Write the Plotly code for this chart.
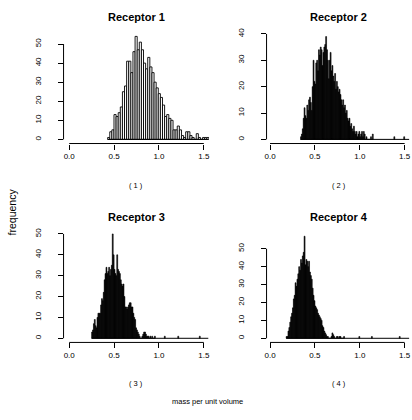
import plotly.graph_objects as go

# ---------------- data ----------------
# Receptor 1: bin width 0.0235 starting at 0.4285
r1_start = 0.4285
r1_width = 0.0235
r1_counts = [1, 4, 5, 13, 12, 14, 17, 25, 28, 41, 41, 35, 46, 54,
             47, 51, 47, 40, 37, 43, 38, 35, 30, 27, 24, 22, 18,
             12, 13, 11, 10, 5, 5, 7, 5, 2, 1, 4, 4, 2, 1, 0, 3, 1, 0, 1, 1, 1]

# Receptor 2: bin width 0.01 starting at 0.34
r2_start = 0.34
r2_width = 0.01
r2_counts = [1, 2, 4, 8, 12, 9, 8, 13, 11, 15, 16, 14, 11, 20, 30, 22, 21, 29, 30, 26,
             34, 32, 35, 34, 28, 33, 35, 36, 39, 34, 30, 23, 30, 33, 26, 28, 24, 22, 25, 19,
             22, 20, 18, 19, 17, 15, 13, 15, 12, 13, 10, 11, 8, 7, 8, 5, 6, 4, 3, 5,
             3, 2, 3, 1, 2, 3, 1, 2, 3, 1, 3, 2, 0, 1, 0, 0, 0, 0, 1, 0, 2]
r2_tail_x = [1.38, 1.49]
r2_tail_n = [1, 1]

# Receptor 3
r3_start = 0.25
r3_width = 0.01
r3_counts = [3, 4, 7, 9, 6, 5, 10, 12, 12, 12, 16, 19, 18, 22, 28, 31, 34, 31, 32, 34,
             30, 33, 35, 50, 40, 33, 31, 30, 40, 33, 32, 31, 28, 26, 25, 26, 20, 15, 15, 14,
             15, 16, 17, 17, 15, 15, 12, 10, 9, 5, 4, 3, 2, 1, 0, 0, 1, 2, 3, 3,
             2, 1, 1, 1, 0, 1, 0, 1, 0, 0, 1]
r3_tail_x = [1.06, 1.21, 1.45]
r3_tail_n = [1, 1, 1]

# Receptor 4
r4_start = 0.18
r4_width = 0.01
r4_counts = [1, 1, 4, 6, 9, 12, 14, 17, 22, 24, 31, 29, 33, 36, 40, 38, 44, 42, 46, 48,
             57, 41, 44, 43, 40, 43, 37, 35, 33, 28, 24, 21, 18, 17, 16, 14, 13, 12, 11, 10,
             7, 6, 4, 3, 2, 1, 1, 0, 0, 0, 1, 3, 2, 1, 0, 0, 1, 1, 0, 1,
             1, 0, 0, 0, 1]
r4_tail_x = [0.99, 1.13, 1.44]
r4_tail_n = [1, 1, 1]

data_max = 1.55

titles = ["Receptor 1", "Receptor 2", "Receptor 3", "Receptor 4"]
subs = ["( 1 )", "( 2 )", "( 3 )", "( 4 )"]
x_ticks = [0, 0.5, 1.0, 1.5]
x_ticklabels = ["0.0", "0.5", "1.0", "1.5"]
y_ticks = [[0, 10, 20, 30, 40, 50], [0, 10, 20, 30, 40],
           [0, 10, 20, 30, 40, 50], [0, 10, 20, 30, 40, 50]]
x_label = "mass per unit volume"
y_label = "frequency"

# ---------------- layout geometry (pixels) ----------------
W, H = 412, 420
FONT = "Liberation Sans, Arial, sans-serif"

# x: (left px, right px, px of value 0, px per unit)
xgeo = [(62.0, 208.5, 67.7, 90.4), (266.5, 412.0, 270.0, 90.4),
        (62.0, 208.5, 67.7, 90.4), (266.5, 412.0, 270.0, 90.4)]
# y: (top px, bottom px, px of count 0, px per count)
ygeo = [(27.7, 140.2, 136.0, 1.93), (27.7, 140.2, 136.0, 2.668),
        (229.0, 341.5, 337.3, 2.112), (229.0, 341.5, 337.3, 1.812)]


def bins(start, width, counts, tail_x=(), tail_n=()):
    xs = [start + (i + 0.5) * width for i in range(len(counts))]
    ys = list(counts)
    for tx, tn in zip(tail_x, tail_n):
        xs.append(tx + width / 2)
        ys.append(tn)
    return xs, ys, [width] * len(xs)


panels = [
    (bins(r1_start, r1_width, r1_counts), r1_start, "white", 0.9),
    (bins(r2_start, r2_width, r2_counts, r2_tail_x, r2_tail_n), r2_start, "black", 0.6),
    (bins(r3_start, r3_width, r3_counts, r3_tail_x, r3_tail_n), r3_start, "black", 0.6),
    (bins(r4_start, r4_width, r4_counts, r4_tail_x, r4_tail_n), r4_start, "black", 0.6),
]

fig = go.Figure()
layout = dict(width=W, height=H, margin=dict(l=0, r=0, t=0, b=0),
              paper_bgcolor="white", plot_bgcolor="white", showlegend=False,
              font=dict(family=FONT, color="black"), barmode="overlay")
shapes = []
annotations = []

for k, ((xs, ys, ws), start, fill, lw) in enumerate(panels):
    n = k + 1
    xa = "x" if n == 1 else f"x{n}"
    ya = "y" if n == 1 else f"y{n}"
    fig.add_trace(go.Bar(x=xs, y=ys, width=ws, xaxis=xa, yaxis=ya,
                         marker=dict(color=fill, line=dict(color="black", width=lw)),
                         hoverinfo="skip"))
    fig.add_trace(go.Scatter(x=[start, data_max], y=[0, 0], mode="lines", xaxis=xa, yaxis=ya,
                             line=dict(color="black", width=1), hoverinfo="skip"))
    L, R, x0, sx = xgeo[k]
    T, B, y0, sy = ygeo[k]
    xr = [(L - x0) / sx, (R - x0) / sx]
    yr = [(y0 - B) / sy, (y0 - T) / sy]
    layout["xaxis" if n == 1 else f"xaxis{n}"] = dict(
        domain=[L / W, R / W], range=xr, anchor=ya, tickvals=x_ticks, ticktext=x_ticklabels,
        ticks="outside", ticklen=5, tickwidth=1, tickcolor="black", showline=False,
        showgrid=False, zeroline=False, tickfont=dict(size=8, family=FONT, color="black"),
        ticklabelstandoff=0, ticklabeloverflow="allow", fixedrange=True)
    layout["yaxis" if n == 1 else f"yaxis{n}"] = dict(
        domain=[1 - B / H, 1 - T / H], range=yr, anchor=xa, tickvals=y_ticks[k],
        tickangle=-90, ticks="outside", ticklen=5, tickwidth=1, tickcolor="black",
        showline=False, showgrid=False, zeroline=False,
        tickfont=dict(size=8, family=FONT, color="black"), ticklabelstandoff=13,
        ticklabeloverflow="allow", fixedrange=True)
    shapes.append(dict(type="line", xref=xa, yref=f"{ya} domain", x0=x_ticks[0], x1=x_ticks[-1],
                       y0=0, y1=0, line=dict(color="black", width=1)))
    shapes.append(dict(type="line", xref=f"{xa} domain", yref=ya, x0=0, x1=0,
                       y0=y_ticks[k][0], y1=y_ticks[k][-1], line=dict(color="black", width=1)))
    cx = (L + R) / 2 / W
    title_y = 12 if k < 2 else 215
    sub_y = 183 if k < 2 else 383.3
    annotations.append(dict(text=f"<b>{titles[k]}</b>", x=cx, y=1 - title_y / H, xref="paper",
                            yref="paper", showarrow=False, xanchor="center", yanchor="middle",
                            font=dict(size=11, family=FONT, color="#000000")))
    annotations.append(dict(text=subs[k], x=cx, y=1 - sub_y / H, xref="paper", yref="paper",
                            showarrow=False, xanchor="center", yanchor="middle",
                            font=dict(size=7.5, family=FONT, color="#000000")))

annotations.append(dict(text=x_label, x=206.7 / W, y=1 - 401.7 / H, xref="paper", yref="paper",
                        showarrow=False, xanchor="center", yanchor="middle",
                        font=dict(size=7.5, family=FONT, color="#000000")))
annotations.append(dict(text=y_label, x=10 / W, y=1 - 209 / H, xref="paper", yref="paper",
                        showarrow=False, xanchor="center", yanchor="middle", textangle=-90,
                        font=dict(size=10.5, family=FONT, color="#000000")))

layout["shapes"] = shapes
layout["annotations"] = annotations
fig.update_layout(**layout)
fig.write_html("out.html", config={"staticPlot": True, "displayModeBar": False},
               post_script="document.body.style.margin='0px';document.body.style.overflow='hidden';")
